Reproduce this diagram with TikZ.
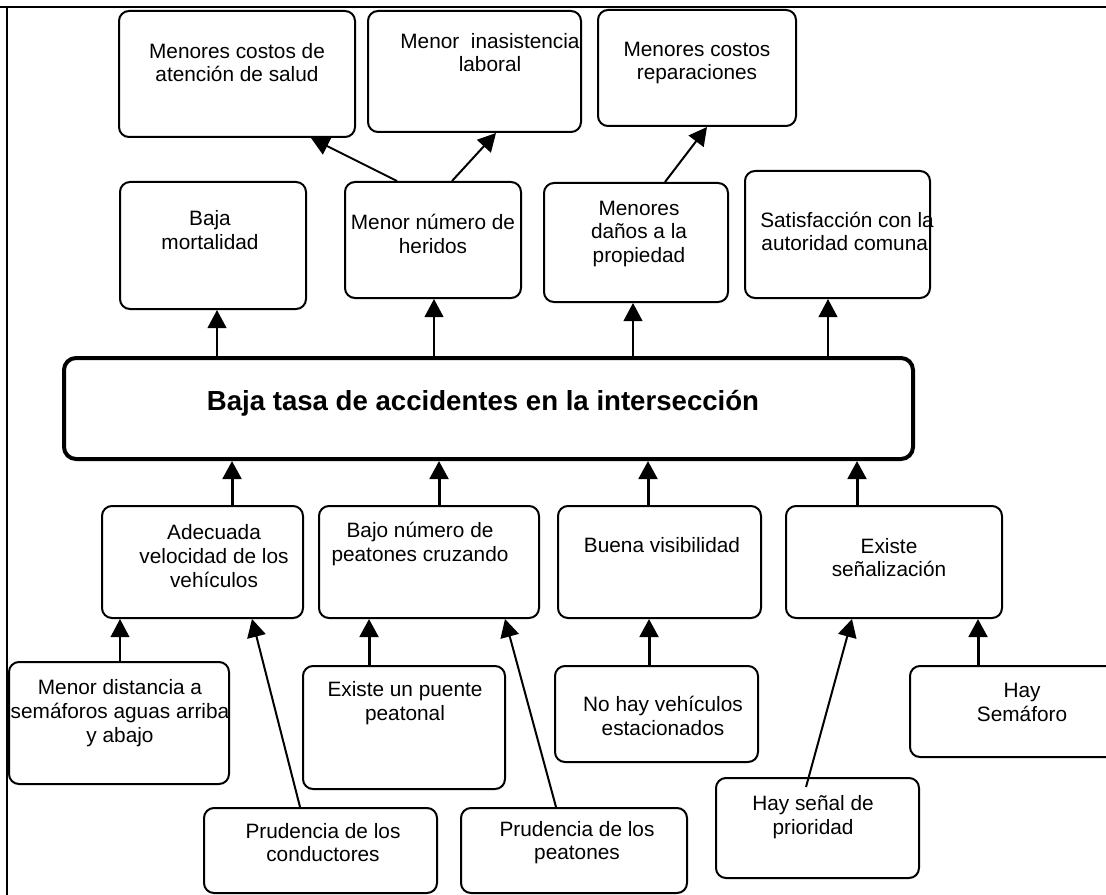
\documentclass[tikz,border=0pt]{standalone}
\usepackage{fontspec}
\setmainfont{Liberation Sans}
\usepackage{tikz}
\usetikzlibrary{arrows.meta, calc, fit}

\begin{document}
\begin{tikzpicture}[x=0.75pt, y=-0.75pt,
    caja/.style={draw, line width=1.5pt, rounded corners=7.5pt, inner sep=0pt},
    texto/.style={align=center, inner sep=0pt, font=\fontsize{15.6}{17.8}\selectfont},
    flecha/.style={-{Triangle[length=13.5pt, width=14pt]}, line width=1.5pt},
    gruesa/.style={flecha, line width=2.25pt}]
  \useasboundingbox (0,0) rectangle (1106,895);
  % marco
  \draw[line width=1.5pt] (-5,7) -- (1120,7);
  \draw[line width=1.1pt] (7,7) -- (7,910);

  % fines
  \node[caja, fit={(119,11) (355,137)}] (salud) {};
  \node[texto] (saludTx) at (237,62.5) {Menores costos de\\atención de salud};
  \node[caja, fit={(368,11) (581,132)}] (laboral) {};
  \node[texto] (laboralTx) at (490,52.5) {Menor~~inasistencia\\laboral};
  \node[caja, fit={(598,10) (796,126)}] (reparac) {};
  \node[texto] (reparacTx) at (697,63) {Menores costos\\reparaciones};

  \node[caja, fit={(120,182) (306,309)}] (mortal) {};
  \node[texto] (mortalTx) at (210,230) {Baja\\mortalidad};
  \node[caja, fit={(345,182) (521,298)}] (heridos) {};
  \node[texto] (heridosTx) at (433,234) {Menor número de\\heridos};
  \node[caja, fit={(544,183) (728,302)}] (danos) {};
  \node[texto] (danosTx) at (639,234) {Menores\\daños a la\\propiedad};
  \node[caja, fit={(745,171) (930,298)}] (satisf) {};
  \node[texto] (satisfTx) at (847,231.5) {Satisfacción con la\\autoridad comunal};

  % objetivo central
  \node[caja, line width=3pt, rounded corners=9pt, fit={(64,358) (913,459)}] (tasa) {};
  \node[texto, font=\fontsize{20.7}{24}\selectfont\bfseries] (tasaTx) at (483,403)
    {Baja tasa de accidentes en la intersección};

  % medios
  \node[caja, fit={(102,506) (303,618)}] (veloc) {};
  \node[texto] (velocTx) at (214,556) {Adecuada\\velocidad de los\\vehículos};
  \node[caja, fit={(319,506) (539,618)}] (peatones) {};
  \node[texto] (peatonesTx) at (420,544) {Bajo número de\\peatones cruzando};
  \node[caja, fit={(558,506) (761,618)}] (visib) {};
  \node[texto] (visibTx) at (662,545) {Buena visibilidad};
  \node[caja, fit={(786,506) (1002,618)}] (senal) {};
  \node[texto] (senalTx) at (889,557.5) {Existe\\señalización};

  % medios fundamentales
  \node[caja, fit={(9,662) (229,784)}] (distancia) {};
  \node[texto] (distanciaTx) at (120,713) {Menor distancia a\\semáforos aguas arriba\\y abajo};
  \node[caja, fit={(204,808) (437,893)}] (conduct) {};
  \node[texto] (conductTx) at (323,842.5) {Prudencia de los\\conductores};
  \node[caja, fit={(303,666) (505,789)}] (puente) {};
  \node[texto] (puenteTx) at (405,703) {Existe un puente\\peatonal};
  \node[caja, fit={(461,808) (687,893)}] (prudPeat) {};
  \node[texto] (prudPeatTx) at (577,842.5) {Prudencia de los\\peatones};
  \node[caja, fit={(555,666) (758,762)}] (estac) {};
  \node[texto] (estacTx) at (663,716) {No hay vehículos\\estacionados};
  \node[caja, fit={(716,778) (919,878)}] (prioridad) {};
  \node[texto] (prioridadTx) at (813,817) {Hay señal de\\prioridad};
  \node[caja, fit={(910,666) (1130,757)}] (semaforo) {};
  \node[texto] (semaforoTx) at (1022,702.5) {Hay\\Semáforo};

  % objetivo -> fines
  \coordinate (aMortal) at ($(mortal.south)+(4,0)$);
  \coordinate (aHeridos) at ($(heridos.south)+(1,0)$);
  \coordinate (aDanos) at ($(danos.south)+(-3,0)$);
  \coordinate (aSatisf) at ($(satisf.south)+(-9.5,0)$);
  \draw[flecha] (aMortal |- tasa.north) -- (aMortal);
  \draw[flecha] (aHeridos |- tasa.north) -- (aHeridos);
  \draw[flecha] (aDanos |- tasa.north) -- (aDanos);
  \draw[flecha] (aSatisf |- tasa.north) -- (aSatisf);

  \draw[flecha] ($(heridos.north)+(-36,0)$) -- ($(salud.south)+(74,0)$);
  \draw[flecha] ($(heridos.north)+(19,0)$) -- ($(laboral.south)+(21.5,0)$);
  \draw[flecha] ($(danos.north)+(29,0)$) -- ($(reparac.south)+(10,0)$);

  % medios -> objetivo
  \draw[gruesa] ($(veloc.north)+(29.5,0)$) coordinate (mVeloc) -- (mVeloc |- tasa.south);
  \draw[gruesa] ($(peatones.north)+(10,0)$) coordinate (mPeat) -- (mPeat |- tasa.south);
  \draw[gruesa] ($(visib.north)+(-11.5,0)$) coordinate (mVisib) -- (mVisib |- tasa.south);
  \draw[gruesa] ($(senal.north)+(-37,0)$) coordinate (mSenal) -- (mSenal |- tasa.south);

  % medios fundamentales -> medios
  \draw[flecha, line width=1.1pt] ($(distancia.north)+(1,0)$) coordinate (fDist) -- (fDist |- veloc.south);
  \draw[flecha] ($(conduct.north)+(-20.5,0)$) -- ($(veloc.south)+(49.5,0)$);
  \draw[gruesa] ($(puente.north)+(-35,0)$) coordinate (fPuente) -- (fPuente |- peatones.south);
  \draw[flecha] ($(prudPeat.north)+(-18,0)$) -- ($(peatones.south)+(76,0)$);
  \draw[gruesa] ($(estac.north)+(-7.5,0)$) coordinate (fEstac) -- (fEstac |- visib.south);
  \draw[flecha] ($(prioridad.north)+(-11.5,10)$) -- ($(senal.south)+(-42,0)$);
  \draw[gruesa] ($(semaforo.north)+(-42,0)$) coordinate (fSemaf) -- (fSemaf |- senal.south);
\end{tikzpicture}
\end{document}
